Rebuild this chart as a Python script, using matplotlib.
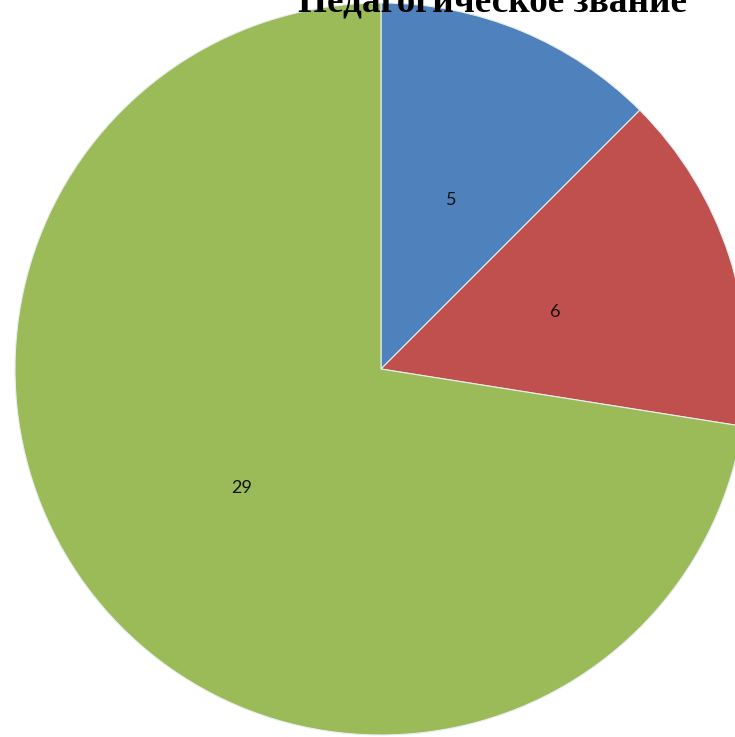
import matplotlib
matplotlib.use("Agg")
import matplotlib.pyplot as plt

W, H = 735, 737

# data
labels = ['5', '6', '29']
values = [5, 6, 29]
colors = ['#4F81BD', '#C0504D', '#9BBB59']
title = 'Педагогическое звание'

fig = plt.figure(figsize=(W / 100, H / 100), dpi=100)
fig.patch.set_facecolor('white')

# pie centre at about (381, 369) px, radius ~366 px
cx, cy, r = 381, 369, 366
ax = fig.add_axes([(cx - r) / W, (H - cy - r) / H, 2 * r / W, 2 * r / H])
ax.set_axis_off()

wedges, texts = ax.pie(values, colors=colors, startangle=90, counterclock=False,
                       radius=1, labels=labels, labeldistance=0.5,
                       wedgeprops=dict(edgecolor='#e8eef0', linewidth=0.8),
                       textprops=dict(fontsize=13, family='Lato', color='#111111'))
for t in texts:
    t.set_ha('center')
    t.set_va('center')
ax.set_xlim(-1, 1)
ax.set_ylim(-1, 1)

# title is partly cut off at the top, as in the original
fig.text(492 / W, 1 - 12 / H, title, ha='center', va='baseline',
         fontsize=26.8, fontweight='bold', family='Liberation Serif')

fig.savefig('out.png', dpi=100)
plt.close(fig)
